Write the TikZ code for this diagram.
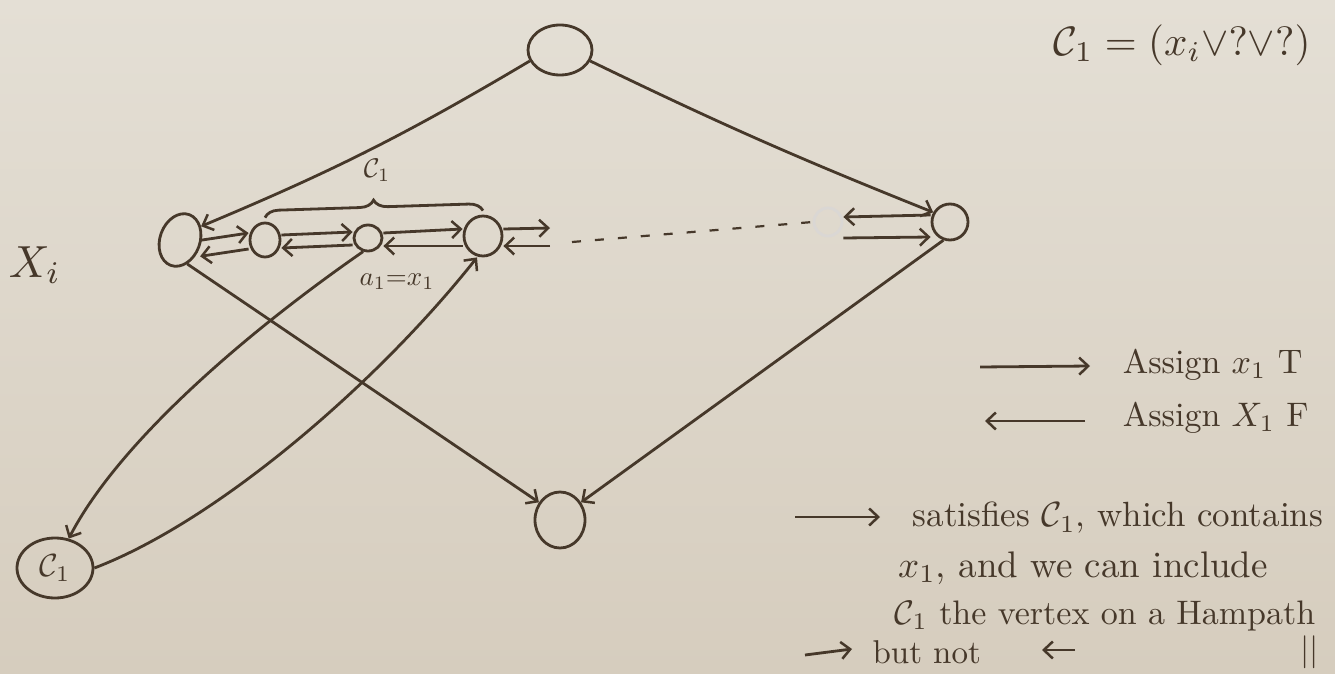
\documentclass[tikz,border=0pt]{standalone}
\usetikzlibrary{arrows.meta,decorations.pathreplacing,shapes.geometric,calc}
\definecolor{papertop}{RGB}{228,223,213}
\definecolor{paperbot}{RGB}{214,205,190}
\definecolor{ink}{RGB}{70,56,42}
\begin{document}
\begin{tikzpicture}[x=1pt,y=-1pt,line width=2.8pt,draw=ink,text=ink,
  vtx/.style={ellipse,draw=ink,inner sep=0pt,line width=2.8pt},
  arr/.style={-{Straight Barb[length=9pt,width=17pt,line width=2.5pt]}},
  lbl/.style={inner sep=0pt},
  txt/.style={inner sep=0pt,anchor=west}]
\shade[top color=papertop,bottom color=paperbot] (0,0) rectangle (1335,674);
\useasboundingbox (0,0) rectangle (1335,674);

% vertices
\node[vtx,minimum width=64pt,minimum height=50pt] (T) at (560,50) {};
\node[vtx,minimum width=40pt,minimum height=54pt,rotate=-20] (L) at (180,240) {};
\node[vtx,minimum width=30pt,minimum height=34pt] (n2) at (265,240) {};
\node[vtx,minimum width=28pt,minimum height=26pt] (n3) at (368,238) {};
\node[vtx,minimum width=38pt,minimum height=40pt] (n4) at (483,236) {};
\node[vtx,draw=ink!20,minimum width=28pt,minimum height=28pt] (F) at (828,222) {};
\node[vtx,minimum width=36pt,minimum height=36pt] (R) at (950,222) {};
\node[vtx,minimum width=50pt,minimum height=56pt] (B) at (560,520) {};
\node[vtx,minimum width=76pt,minimum height=60pt] (C) at (55,568) {};
\node[lbl,scale=3.2] (Cl) at (C.center) {$\mathcal{C}_1$};

% labels
\node[lbl,scale=4.5] (Xi) at (35,265) {$X_i$};
\node[lbl,scale=2.7] (bl) at (377,170) {$\mathcal{C}_1$};
\node[lbl,scale=2.7] (al) at (397,282) {$a_1{=}x_1$};
\node[lbl,scale=4.1] (form) at (1182,45) {$\mathcal{C}_1 = (x_i \vee ? \vee ?)$};

% brace
\draw[decorate,decoration={brace,amplitude=14pt}] ([yshift=4pt]n2.north) -- ([yshift=4pt]n4.north);

% top edges
\draw[arr] (T.200) to[bend left=4] (L.north east);
\draw[arr] (T.-20) to[bend right=2] (R.150);

% chain
\draw[arr] ([yshift=7pt]L.east) -- ([yshift=7pt]n2.west);
\draw[arr] ([yshift=-9pt]n2.west) -- ([yshift=-9pt]L.east);
\draw[arr] ([yshift=5pt]n2.east) -- ([yshift=6pt]n3.west);
\draw[arr] ([yshift=-7pt]n3.west) -- ([yshift=-8pt]n2.east);
\draw[arr] ([yshift=5pt]n3.east) -- ([yshift=7pt]n4.west);
\draw[arr] ([yshift=-10pt]n4.west) -- ([yshift=-8pt]n3.east);
\coordinate (s1) at (550,228);
\coordinate (s2) at (550,246);
\coordinate (d0) at (572,242);
\draw[arr] ([yshift=7pt]n4.east) -- (s1);
\draw[arr] (s2) -- ([yshift=-10pt]n4.east);
\draw[dashed,dash pattern=on 9pt off 14pt,line width=2.2pt] (d0) -- (F.west);
\draw[arr] ([yshift=7pt]R.west) -- ([yshift=5pt]F.east);
\draw[arr] ([yshift=-16pt]F.east) -- ([yshift=-15pt]R.west);

% lower edges
\draw[arr] (L.south east) -- (B.140);
\draw[arr] (R.-110) -- (B.40);
\draw[arr] (n3.-110) .. controls (250,330) and (120,440) .. (C.65);
\draw[arr] (C.east) .. controls (220,520) and (380,380) .. ([xshift=-6pt]n4.south);

% legend
\coordinate (a1s) at (980,367); \coordinate (a1e) at (1090,366);
\coordinate (a2s) at (1085,421); \coordinate (a2e) at (985,421);
\draw[arr] (a1s) -- (a1e);
\draw[arr] (a2s) -- (a2e);
\node[txt,scale=3.4] (t1) at (1118,365) {Assign $x_1$\ T};
\node[txt,scale=3.4] (t2) at (1118,418) {Assign $X_1$\ F};

\coordinate (b1s) at (795,517); \coordinate (b1e) at (880,517);
\draw[arr] (b1s) -- (b1e);
\node[txt,scale=3.5] (u1) at (908,518) {satisfies $\mathcal{C}_1$, which contains};
\node[txt,scale=3.7] (u2) at (893,568) {$x_1$, and we can include};
\node[txt,scale=3.4] (u3) at (890,616) {$\mathcal{C}_1$ the vertex on a Hampath};
\coordinate (c1s) at (805,655); \coordinate (c1e) at (852,649);
\draw[arr] (c1s) -- (c1e);
\node[txt,scale=3.3] (u4) at (868,652) {but not};
\coordinate (c2s) at (1075,650); \coordinate (c2e) at (1042,650);
\draw[arr] (c2s) -- (c2e);
\node[txt,scale=3.3] (u5) at (1296,652) {$||$};
\end{tikzpicture}
\end{document}
